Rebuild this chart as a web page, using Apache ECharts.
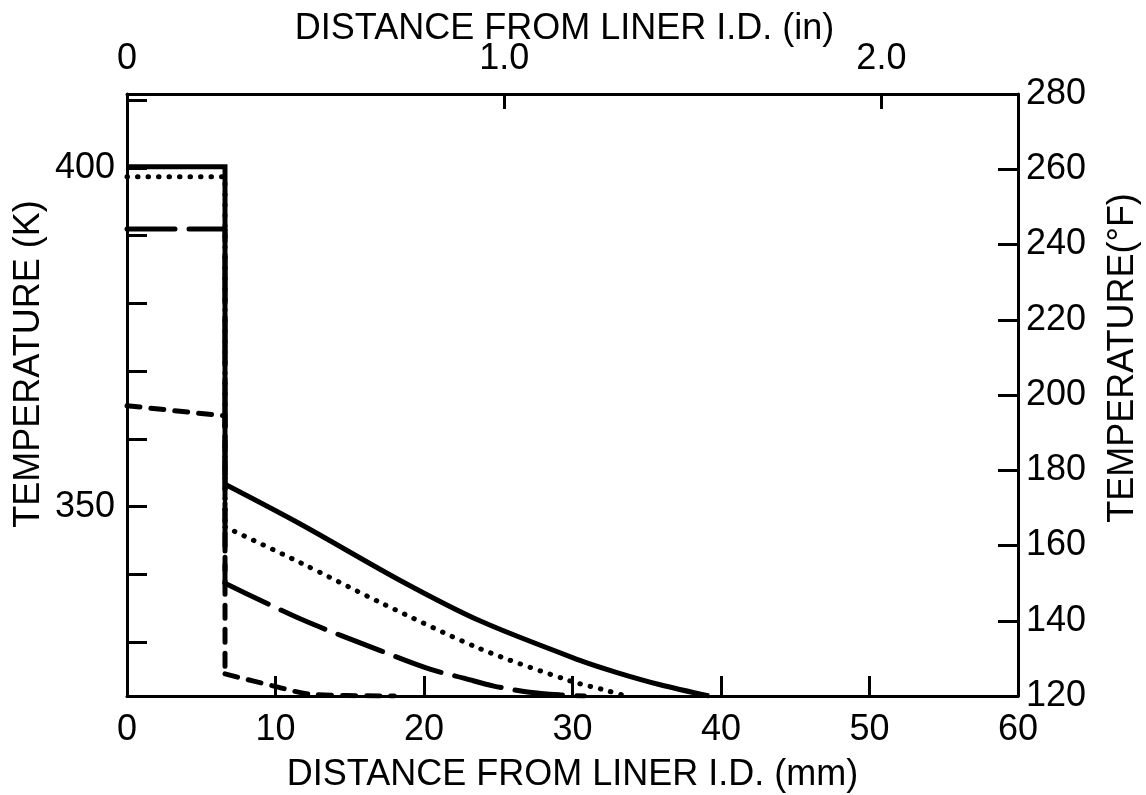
<!DOCTYPE html>
<html>
<head>
<meta charset="utf-8">
<script src="https://cdn.jsdelivr.net/npm/echarts@6.0.0/dist/echarts.min.js"></script>
<style>
html,body{margin:0;padding:0;background:#fff;}
#chart{width:1146px;height:795px;}
</style>
</head>
<body>
<div id="chart"></div>
<script>
// ---- Data (distance in mm, temperature in K) ----
// Each profile: a step part (inner liner, flat then vertical drop) and a smooth decaying curve.
const solidStepX  = [0, 6.6, 6.6];
const solidStepK  = [400.2, 400.2, 353.3];
const solidCurveX = [6.6, 11.7, 18.4, 23.8, 30.5, 33.0, 35.9, 39.2];
const solidCurveK = [353.3, 347.4, 339.1, 333.1, 327.3, 325.5, 323.7, 322.04];

const dottedStepX  = [0, 6.6, 6.6];
const dottedStepK  = [398.7, 398.7, 347.0];
const dottedCurveX = [6.6, 11.7, 17.1, 23.8, 29.8, 32.2, 33.6];
const dottedCurveK = [347.0, 341.7, 335.8, 329.0, 324.3, 322.9, 322.04];

const longDashStepX  = [0, 6.6, 6.6];
const longDashStepK  = [391.0, 391.0, 338.7];
const longDashCurveX = [6.6, 11.7, 17.1, 20.4, 22.8, 24.7, 27.1, 29.2, 30.8];
const longDashCurveK = [338.7, 333.4, 328.7, 326.0, 324.6, 323.5, 322.6, 322.2, 322.04];

const shortDashStepX  = [0, 6.6, 6.6];
const shortDashStepK  = [364.9, 363.4, 325.3];
const shortDashCurveX = [6.6, 9.9, 12.4, 18.0];
const shortDashCurveK = [325.3, 323.5, 322.3, 322.04];

// ---- Axis ticks / labels ----
const mmTicks = [0, 10, 20, 30, 40, 50, 60];
const inTicks = [1, 2];
const inLabels = [0, 1, 2];
const kTicks = [330, 340, 350, 360, 370, 380, 390, 400, 410];
const kLabels = [350, 400];
const fMin = 120, fMax = 280, fInterval = 20;
const mmMax = 60;
const mmPerInch = 25.4;

const fToK = f => (f - 32) * 5 / 9 + 273.15;
const zip = (xs, ys) => xs.map((x, i) => [x, ys[i]]);

const FONT = '"Liberation Sans", Arial, sans-serif';
const FS = 36;
const black = '#000';
const axisLine = { show: true, onZero: false, lineStyle: { color: black, width: 3 } };

const styles = {
  solid:     { color: black, width: 5, type: 'solid', cap: 'butt', join: 'miter' },
  dotted:    { color: black, width: 5, type: [0.5, 10], cap: 'round' },
  longDash:  { color: black, width: 5, type: [48, 14], cap: 'round' },
  shortDash: { color: black, width: 5, type: [13, 11], cap: 'round' }
};

function line(xs, ys, style, smooth) {
  return {
    type: 'line', xAxisIndex: 0, yAxisIndex: 0, showSymbol: false, silent: true,
    smooth: smooth ? 0.3 : false,
    data: zip(xs, ys), lineStyle: style
  };
}

const chart = echarts.init(document.getElementById('chart'), null, { renderer: 'canvas' });
chart.setOption({
  animation: false,
  backgroundColor: '#fff',
  grid: { left: 127, right: 128, top: 94, bottom: 99, containLabel: false, outerBoundsMode: 'none' },
  xAxis: [
    {
      type: 'value', position: 'bottom', min: 0, max: mmMax,
      interval: 10,
      axisLine: axisLine,
      axisTick: { show: true, inside: true, length: 20, lineStyle: { color: black, width: 3 }, customValues: mmTicks },
      axisLabel: { show: true, margin: 16, color: black, fontFamily: FONT, fontSize: FS, customValues: mmTicks,
                   formatter: v => String(v) },
      splitLine: { show: false },
      name: 'DISTANCE FROM LINER I.D. (mm)',
      nameLocation: 'middle', nameGap: 61, nameMoveOverlap: false,
      nameTextStyle: { color: black, fontFamily: FONT, fontSize: FS }
    },
    {
      type: 'value', position: 'top', min: 0, max: mmMax / mmPerInch,
      axisLine: axisLine,
      axisTick: { show: true, inside: true, length: 15, lineStyle: { color: black, width: 3 }, customValues: inTicks },
      axisLabel: { show: true, margin: 17, color: black, fontFamily: FONT, fontSize: FS, customValues: inLabels,
                   formatter: v => (v === 0 ? '0' : v.toFixed(1)) },
      splitLine: { show: false },
      name: 'DISTANCE FROM LINER I.D. (in)',
      nameLocation: 'middle', nameGap: 47, nameMoveOverlap: false,
      nameTextStyle: { color: black, fontFamily: FONT, fontSize: FS, padding: [0, 16, 0, 0] }
    }
  ],
  yAxis: [
    {
      type: 'value', position: 'left', min: fToK(fMin), max: fToK(fMax),
      axisLine: axisLine,
      axisTick: { show: true, inside: true, length: 20, lineStyle: { color: black, width: 3 }, customValues: kTicks },
      axisLabel: { show: true, margin: 12, color: black, fontFamily: FONT, fontSize: FS, customValues: kLabels,
                   formatter: v => String(Math.round(v)) },
      splitLine: { show: false },
      name: 'TEMPERATURE (K)',
      nameLocation: 'middle', nameGap: 80, nameRotate: 90, nameMoveOverlap: false,
      nameTextStyle: { color: black, fontFamily: FONT, fontSize: FS, padding: [0, 0, 0, 62] }
    },
    {
      type: 'value', position: 'right', min: fMin, max: fMax, interval: fInterval,
      axisLine: axisLine,
      axisTick: { show: true, inside: true, length: 20, lineStyle: { color: black, width: 3 } },
      axisLabel: { show: true, margin: 8, color: black, fontFamily: FONT, fontSize: FS,
                   formatter: v => String(v) },
      splitLine: { show: false },
      name: 'TEMPERATURE(°F)',
      nameLocation: 'middle', nameGap: 87, nameRotate: 90, nameMoveOverlap: false,
      nameTextStyle: { color: black, fontFamily: FONT, fontSize: FS, padding: [0, 0, 0, 74] }
    }
  ],
  series: [
    line(solidStepX, solidStepK, styles.solid, false),
    line(solidCurveX, solidCurveK, styles.solid, true),
    line(dottedStepX, dottedStepK, styles.dotted, false),
    line(dottedCurveX, dottedCurveK, styles.dotted, true),
    line(longDashStepX, longDashStepK, styles.longDash, false),
    line(longDashCurveX, longDashCurveK, styles.longDash, true),
    line(shortDashStepX, shortDashStepK, styles.shortDash, false),
    line(shortDashCurveX, shortDashCurveK, styles.shortDash, true)
  ]
});
</script>
</body>
</html>
